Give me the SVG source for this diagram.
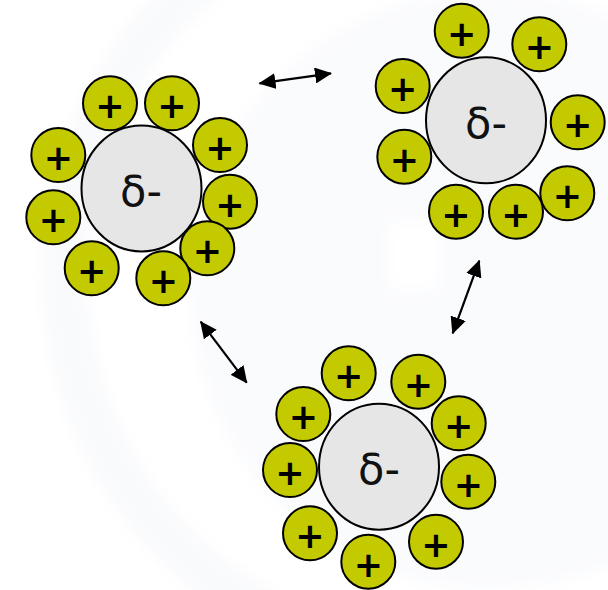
<svg xmlns="http://www.w3.org/2000/svg" width="608" height="590" viewBox="0 0 608 590">
  <style>
    .core { fill: #e6e6e6; stroke: #000; stroke-width: 2; }
    .core-label { font-family: "DejaVu Sans", "Liberation Sans", sans-serif; font-size: 43px; fill: #111; text-anchor: middle; }
    .ion circle { fill: #c3cb00; stroke: #000; stroke-width: 2; }
    .ion text { font-family: "DejaVu Sans", "Liberation Sans", sans-serif; font-weight: bold; font-size: 35px; fill: #000; text-anchor: middle; }
    .link { stroke: #000; stroke-width: 2.2; fill: none; marker-start: url(#tip); marker-end: url(#tip); }
  </style>
  <defs>
    <marker id="tip" viewBox="0 0 17 16" refX="16" refY="8" markerWidth="17" markerHeight="16" markerUnits="userSpaceOnUse" orient="auto-start-reverse">
      <path d="M0,0 L17,8 L0,16 Z" fill="#000"/>
    </marker>
    <filter id="soft" x="-20%" y="-20%" width="140%" height="140%">
      <feGaussianBlur stdDeviation="8"/>
    </filter>
  </defs>

  <!-- page background with a faint watermark -->
  <rect width="608" height="590" fill="#ffffff"/>
  <g id="watermark" filter="url(#soft)">
    <circle cx="490" cy="290" r="300" fill="#fafbfd"/>
    <circle cx="450" cy="275" r="385" fill="none" stroke="#f9fafc" stroke-width="44"/>
    <rect x="388" y="222" width="50" height="68" fill="#ffffff"/>
  </g>

  <!-- double-headed attraction arrows -->
  <g id="connectors">
    <line class="link" x1="259.5" y1="83.3" x2="331" y2="73.3"/>
    <line class="link" x1="200.7" y1="321.7" x2="246.7" y2="382.7"/>
    <line class="link" x1="479.3" y1="260.7" x2="452.7" y2="333.3"/>
  </g>

  <!-- left cluster -->
  <g id="cluster-left">
    <ellipse class="core" cx="141.5" cy="188.5" rx="60" ry="63"/>
    <text class="core-label" x="141" y="206">δ-</text>
    <g class="ion" transform="translate(110,103.3)"><circle r="27"/><text y="15">+</text></g>
    <g class="ion" transform="translate(172,103.3)"><circle r="27"/><text y="15">+</text></g>
    <g class="ion" transform="translate(220,145)"><circle r="27"/><text y="15">+</text></g>
    <g class="ion" transform="translate(230,201.7)"><circle r="27"/><text y="15">+</text></g>
    <g class="ion" transform="translate(207.3,248.3)"><circle r="27"/><text y="15">+</text></g>
    <g class="ion" transform="translate(163.3,278.3)"><circle r="27"/><text y="15">+</text></g>
    <g class="ion" transform="translate(91.7,268.3)"><circle r="27"/><text y="15">+</text></g>
    <g class="ion" transform="translate(53.3,217.3)"><circle r="27"/><text y="15">+</text></g>
    <g class="ion" transform="translate(58.3,155)"><circle r="27"/><text y="15">+</text></g>
  </g>

  <!-- upper right cluster -->
  <g id="cluster-right">
    <ellipse class="core" cx="486" cy="120.3" rx="60" ry="63"/>
    <text class="core-label" x="486" y="138">δ-</text>
    <g class="ion" transform="translate(461.7,30.7)"><circle r="27"/><text y="15">+</text></g>
    <g class="ion" transform="translate(539.3,44.3)"><circle r="27"/><text y="15">+</text></g>
    <g class="ion" transform="translate(402.7,86)"><circle r="27"/><text y="15">+</text></g>
    <g class="ion" transform="translate(404.3,156.7)"><circle r="27"/><text y="15">+</text></g>
    <g class="ion" transform="translate(577.7,122.3)"><circle r="27"/><text y="15">+</text></g>
    <g class="ion" transform="translate(567.3,193.3)"><circle r="27"/><text y="15">+</text></g>
    <g class="ion" transform="translate(516,211.7)"><circle r="27"/><text y="15">+</text></g>
    <g class="ion" transform="translate(456,211.7)"><circle r="27"/><text y="15">+</text></g>
  </g>

  <!-- lower cluster -->
  <g id="cluster-bottom">
    <ellipse class="core" cx="379" cy="466.7" rx="60" ry="63"/>
    <text class="core-label" x="379" y="484">δ-</text>
    <g class="ion" transform="translate(348.7,373.3)"><circle r="27"/><text y="15">+</text></g>
    <g class="ion" transform="translate(418.3,381.7)"><circle r="27"/><text y="15">+</text></g>
    <g class="ion" transform="translate(458.7,423.3)"><circle r="27"/><text y="15">+</text></g>
    <g class="ion" transform="translate(468.3,481.7)"><circle r="27"/><text y="15">+</text></g>
    <g class="ion" transform="translate(436,541.7)"><circle r="27"/><text y="15">+</text></g>
    <g class="ion" transform="translate(368.3,561.7)"><circle r="27"/><text y="15">+</text></g>
    <g class="ion" transform="translate(310,533.3)"><circle r="27"/><text y="15">+</text></g>
    <g class="ion" transform="translate(290,470)"><circle r="27"/><text y="15">+</text></g>
    <g class="ion" transform="translate(303.3,414)"><circle r="27"/><text y="15">+</text></g>
  </g>
</svg>
